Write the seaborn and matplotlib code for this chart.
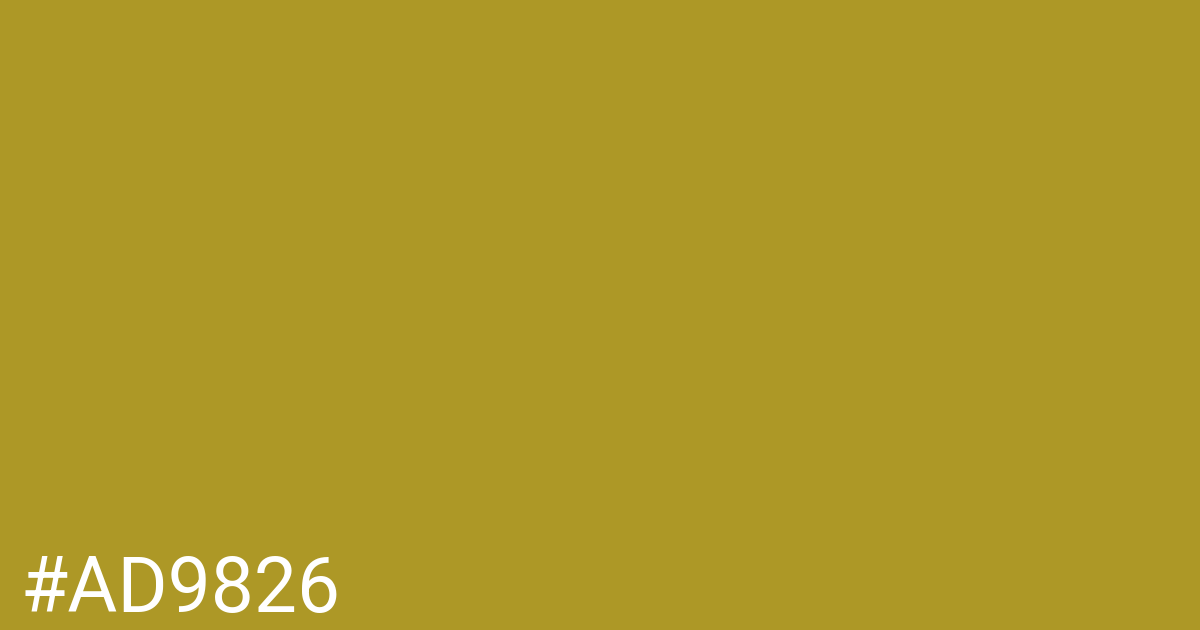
import matplotlib
matplotlib.use("Agg")
import matplotlib.pyplot as plt
import seaborn as sns
from matplotlib.colors import ListedColormap

# swatch data
swatch_colors = ["#AD9826"]
swatch_values = [[0]]
label_text = "#AD9826"

sns.set_theme(style="white")
plt.rcParams['font.family'] = ['Roboto', 'DejaVu Sans']

fig = plt.figure(figsize=(12, 6.3), dpi=100)
ax = fig.add_axes([0, 0, 1, 1])
sns.heatmap(swatch_values, cmap=ListedColormap(swatch_colors), cbar=False,
            xticklabels=False, yticklabels=False, ax=ax)
ax.set_axis_off()

fig.text(20.5 / 1200, 1 - 612 / 630, label_text, color="white",
         fontsize=55.2, ha="left", va="baseline")

fig.savefig("out.png", dpi=100)
